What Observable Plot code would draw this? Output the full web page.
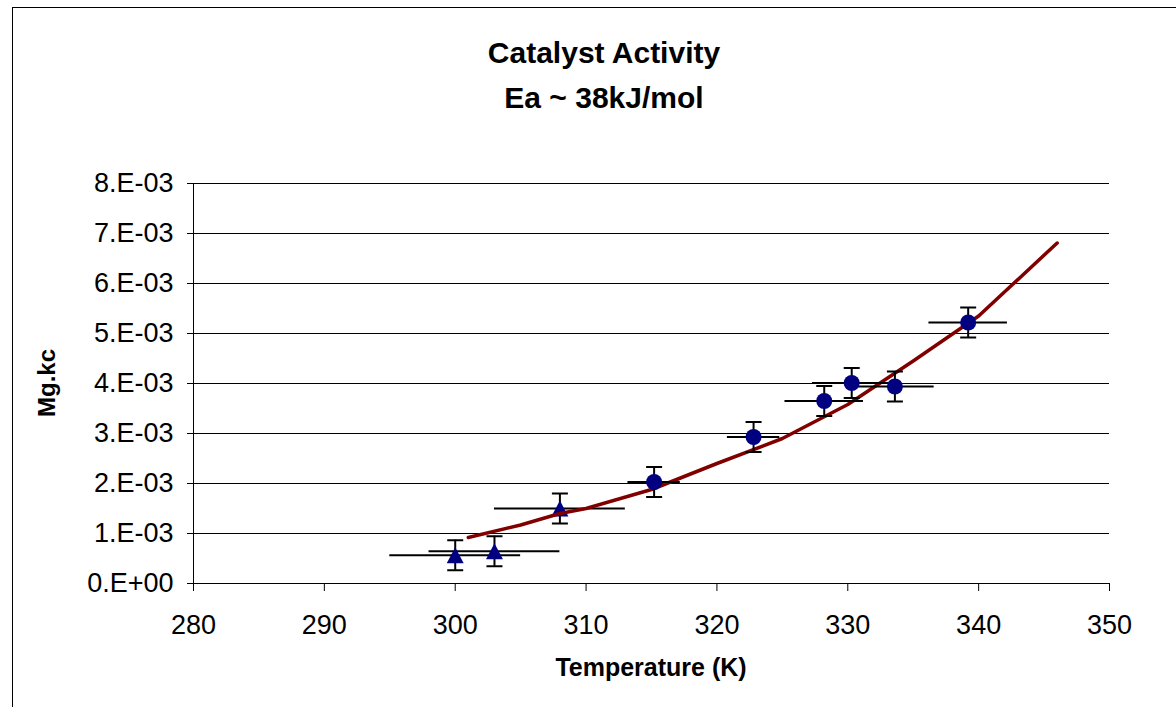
<!DOCTYPE html>
<html><head><meta charset="utf-8">
<script src="https://cdn.jsdelivr.net/npm/d3@7"></script>
<script src="https://cdn.jsdelivr.net/npm/@observablehq/plot@0.6"></script>
<style>
html,body{margin:0;padding:0;overflow:hidden;background:#fff;font-family:"Liberation Sans",Arial,sans-serif;}
#frame{position:absolute;left:12px;top:7px;width:1190px;height:740px;border:1px solid #000;}
#title{position:absolute;left:0;width:1208px;top:30px;text-align:center;font-weight:bold;font-size:30px;line-height:45px;color:#000;}
#chart{position:absolute;left:0;top:150px;}
.axlabel{position:absolute;font-weight:bold;font-size:25px;color:#000;white-space:nowrap;}
#xlabel{left:651px;top:667px;transform:translate(-50%,-50%);}
#ylabel{left:47px;top:383px;transform:translate(-50%,-50%) rotate(-90deg);font-size:24px;}
</style></head><body>
<div id="frame"></div>
<div id="title"><div>Catalyst Activity</div><div>Ea ~ 38kJ/mol</div></div>
<div id="chart"></div>
<div class="axlabel" id="xlabel">Temperature (K)</div>
<div class="axlabel" id="ylabel">Mg.kc</div>
<script>
// Triangle series
const triT = [300, 303, 308];
const triV = [0.565e-3, 0.645e-3, 1.50e-3];
const triXErr = [5, 5, 5];
// Circle series
const circT = [315.2, 322.8, 328.2, 330.3, 333.6, 339.2];
const circV = [2.03e-3, 2.93e-3, 3.65e-3, 4.01e-3, 3.94e-3, 5.22e-3];
const circXErr = [2, 2, 3, 3, 3, 3];
const yErr = 0.3e-3;
// Fitted curve
const fitT = [301, 305, 308, 310, 315, 320, 325, 330, 335, 340, 346];
const fitV = [0.92e-3, 1.17e-3, 1.40e-3, 1.50e-3, 1.88e-3, 2.40e-3, 2.90e-3, 3.58e-3, 4.45e-3, 5.35e-3, 6.81e-3];
// Ticks
const xTicks = [280, 290, 300, 310, 320, 330, 340, 350];
const yTicks = [0, 0.001, 0.002, 0.003, 0.004, 0.005, 0.006, 0.007, 0.008];
const yTickLabels = ["0.E+00","1.E-03","2.E-03","3.E-03","4.E-03","5.E-03","6.E-03","7.E-03","8.E-03"];

const tri = triT.map((T, i) => ({T, v: triV[i], xe: triXErr[i]}));
const circ = circT.map((T, i) => ({T, v: circV[i], xe: circXErr[i]}));
const fit = fitT.map((T, i) => ({T, v: fitV[i]}));

const capSymbol = {draw(ctx, size){ const h = Math.sqrt(size/Math.PI); ctx.moveTo(-h,0); ctx.lineTo(h,0); }};
const triSymbol = {draw(ctx, size){ const h = Math.sqrt(size/Math.PI); ctx.moveTo(0,-h); ctx.lineTo(h*1.06,h); ctx.lineTo(-h*1.06,h); ctx.closePath(); }};

function errMarks(data){
  return [
    Plot.ruleY(data, {y: "v", x1: d => d.T - d.xe, x2: d => d.T + d.xe, stroke: "#000", strokeWidth: 2}),
    Plot.ruleX(data, {x: "T", y1: d => d.v - yErr, y2: d => d.v + yErr, stroke: "#000", strokeWidth: 2}),
    Plot.dot(data, {x: "T", y: d => d.v + yErr, symbol: capSymbol, r: 8, stroke: "#000", strokeWidth: 2, fill: "none"}),
    Plot.dot(data, {x: "T", y: d => d.v - yErr, symbol: capSymbol, r: 8, stroke: "#000", strokeWidth: 2, fill: "none"})
  ];
}

const chart = Plot.plot({
  width: 1176, height: 557,
  marginLeft: 193, marginRight: 67, marginTop: 33, marginBottom: 124,
  style: {fontFamily: "'Liberation Sans', Arial, sans-serif", background: "transparent", overflow: "visible"},
  x: {domain: [280, 350]},
  y: {domain: [0, 0.008]},
  marks: [
    Plot.gridY(yTicks, {stroke: "#000", strokeOpacity: 1, strokeWidth: 1}),
    Plot.axisY(yTicks, {tickFormat: d => yTickLabels[yTicks.indexOf(d)], tickSize: 6, tickPadding: 14, fontSize: 27, stroke: "#000", fill: "#000", label: null}),
    Plot.axisX(xTicks, {tickFormat: d => String(d), tickSize: 8, tickPadding: 23, fontSize: 27, stroke: "#000", fill: "#000", label: null}),
    Plot.ruleX([280], {stroke: "#000", strokeWidth: 1}),
    Plot.ruleY([0], {stroke: "#000", strokeWidth: 1}),
    ...errMarks(tri),
    Plot.dot(tri, {x: "T", y: "v", symbol: triSymbol, r: 8, fill: "#000080", stroke: "none"}),
    Plot.line(fit, {x: "T", y: "v", stroke: "#800000", strokeWidth: 3.5}),
    ...errMarks(circ),
    Plot.dot(circ, {x: "T", y: "v", r: 8, fill: "#000080", stroke: "none"})
  ]
});
document.getElementById("chart").appendChild(chart);
</script>
</body></html>
